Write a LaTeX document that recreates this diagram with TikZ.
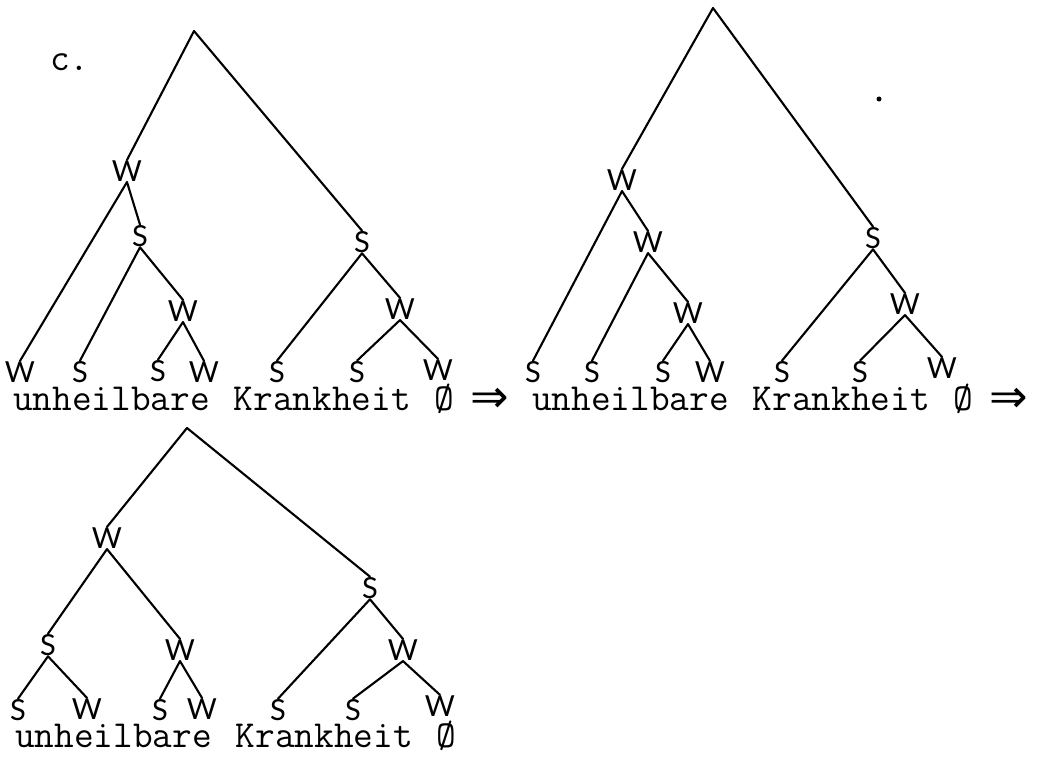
\documentclass[tikz,border=0pt]{standalone}
\usepackage{fontspec}
\newfontfamily\labfont{Lato}
\newfontfamily\arrfont{DejaVu Sans}
\begin{document}
\begin{tikzpicture}[x=1pt,y=-1pt,
  lab/.style={font=\labfont\fontsize{29}{29}\selectfont, inner sep=0.5pt},
  edge/.style={line width=2.1pt, line cap=round},
  line/.style={font=\ttfamily\fontsize{38.2}{38.2}\selectfont, inner sep=0pt, anchor=base west},
  arr/.style={font=\arrfont\fontsize{46}{46}\selectfont, inner sep=0pt}]
\useasboundingbox (0,0) rectangle (1042,760);

% label c.
\node[line, anchor=west] (lc) at (50,62) {c.};

% ---------- tree 1 ----------
\coordinate (r1) at (194,31);
\node[lab] (a1) at (127,171) {W};
\node[lab] (b1) at (140,236) {S};
\node[lab] (c1) at (183,311) {W};
\node[lab] (d1) at (362,242) {S};
\node[lab] (e1) at (400,309) {W};
\node[lab] (l11) at (20,372) {W};
\node[lab] (l12) at (80,372) {S};
\node[lab] (l13) at (158,371) {S};
\node[lab] (l14) at (204,372) {W};
\node[lab] (l15) at (277,372) {S};
\node[lab] (l16) at (357,372) {S};
\node[lab] (l17) at (438,370) {W};
\draw[edge] (r1) -- (a1.north);
\draw[edge] (r1) -- (d1.north);
\draw[edge] (a1.south) -- (l11.north);
\draw[edge] (a1.south) -- (b1.north);
\draw[edge] (b1.south) -- (l12.north);
\draw[edge] (b1.south) -- (c1.north);
\draw[edge] (c1.south) -- (l13.north);
\draw[edge] (c1.south) -- (l14.north);
\draw[edge] (d1.south) -- (l15.north);
\draw[edge] (d1.south) -- (e1.north);
\draw[edge] (e1.south) -- (l16.north);
\draw[edge] (e1.south) -- (l17.north);
\node[line] (w11) at (13,410) {unheilbare};
\node[line] (w12) at (233.6,410) {Krankheit};
\node[line] (w13) at (434.3,410) {Ø};
\node[arr] (ar1) at (490,400) {⇒};

% ---------- tree 2 ----------
\coordinate (r2) at (713,8);
\node[lab] (a2) at (622,180) {W};
\node[lab] (b2) at (648,242) {W};
\node[lab] (c2) at (688,313) {W};
\node[lab] (d2) at (873,238) {S};
\node[lab] (e2) at (905,304) {W};
\node[lab] (l21) at (533,372) {S};
\node[lab] (l22) at (592,372) {S};
\node[lab] (l23) at (663,372) {S};
\node[lab] (l24) at (710,372) {W};
\node[lab] (l25) at (782,372) {S};
\node[lab] (l26) at (860,372) {S};
\node[lab] (l27) at (942,368) {W};
\draw[edge] (r2) -- (a2.north);
\draw[edge] (r2) -- (d2.north);
\draw[edge] (a2.south) -- (l21.north);
\draw[edge] (a2.south) -- (b2.north);
\draw[edge] (b2.south) -- (l22.north);
\draw[edge] (b2.south) -- (c2.north);
\draw[edge] (c2.south) -- (l23.north);
\draw[edge] (c2.south) -- (l24.north);
\draw[edge] (d2.south) -- (l25.north);
\draw[edge] (d2.south) -- (e2.north);
\draw[edge] (e2.south) -- (l26.north);
\draw[edge] (e2.south) -- (l27.north);
\fill (879,99) circle (2.5pt);
\node[line] (w21) at (532,410) {unheilbare};
\node[line] (w22) at (752.6,410) {Krankheit};
\node[line] (w23) at (953.3,410) {Ø};
\node[arr] (ar2) at (1009,400) {⇒};

% ---------- tree 3 ----------
\coordinate (r3) at (187,428);
\node[lab] (a3) at (107,538) {W};
\node[lab] (b3) at (48,645) {S};
\node[lab] (c3) at (180,650) {W};
\node[lab] (d3) at (370,588) {S};
\node[lab] (e3) at (403,650) {W};
\node[lab] (l31) at (18,710) {S};
\node[lab] (l32) at (87,709) {W};
\node[lab] (l33) at (160,710) {S};
\node[lab] (l34) at (202,709) {W};
\node[lab] (l35) at (278,710) {S};
\node[lab] (l36) at (353,710) {S};
\node[lab] (l37) at (440,706) {W};
\draw[edge] (r3) -- (a3.north);
\draw[edge] (r3) -- (d3.north);
\draw[edge] (a3.south) -- (b3.north);
\draw[edge] (a3.south) -- (c3.north);
\draw[edge] (b3.south) -- (l31.north);
\draw[edge] (b3.south) -- (l32.north);
\draw[edge] (c3.south) -- (l33.north);
\draw[edge] (c3.south) -- (l34.north);
\draw[edge] (d3.south) -- (l35.north);
\draw[edge] (d3.south) -- (e3.north);
\draw[edge] (e3.south) -- (l36.north);
\draw[edge] (e3.south) -- (l37.north);
\node[line] (w31) at (15,747) {unheilbare};
\node[line] (w32) at (235.6,747) {Krankheit};
\node[line] (w33) at (436.3,747) {Ø};
\end{tikzpicture}
\end{document}
